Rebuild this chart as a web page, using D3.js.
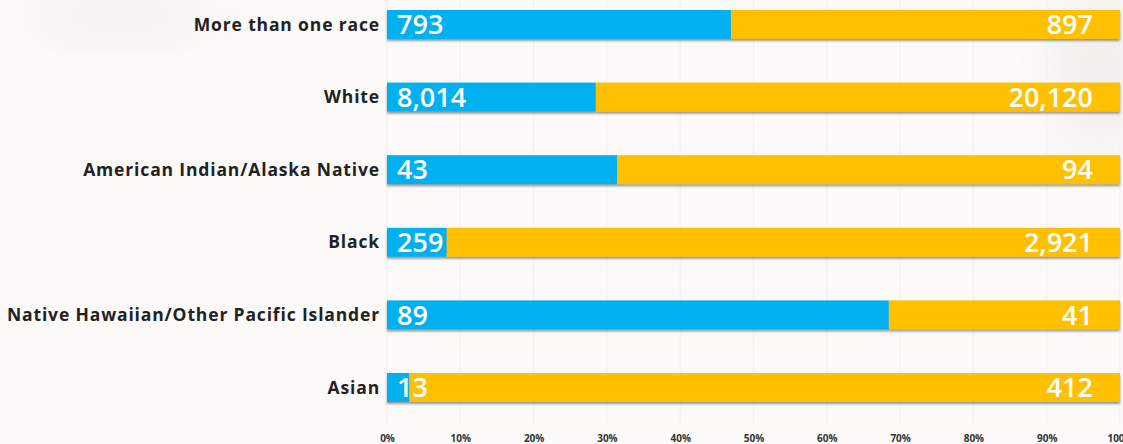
<!DOCTYPE html>
<html>
<head>
<meta charset="utf-8">
<script src="https://cdn.jsdelivr.net/npm/d3@7"></script>
<style>
  html, body { margin: 0; padding: 0; background: #fbfaf8; }
  svg { display: block; }
</style>
</head>
<body>
<div id="graph"></div>
<script>
var categories = ["More than one race", "White", "American Indian/Alaska Native", "Black",
  "Native Hawaiian/Other Pacific Islander", "Asian"];
var blueValues = [793, 8014, 43, 259, 89, 13];
var orangeValues = [897, 20120, 94, 2921, 41, 412];
var tickLabels = ["0%", "10%", "20%", "30%", "40%", "50%", "60%", "70%", "80%", "90%", "100%"];

var width = 1123;
var height = 444;
var barHeight = 29;

var svg = d3.select('#graph')
  .append('svg')
  .attr('width', width)
  .attr('height', height);

var defs = svg.append('defs');
var filt = defs.append('filter').attr('id', 'shadow')
  .attr('x', '-1%').attr('y', '-20%').attr('width', '102%').attr('height', '160%');
filt.append('feDropShadow')
  .attr('dx', 0).attr('dy', 2).attr('stdDeviation', 0.8)
  .attr('flood-color', '#555').attr('flood-opacity', 0.6);

// soft blurred background
var bg = defs.append('filter').attr('id', 'blur')
  .attr('x', '-50%').attr('y', '-50%').attr('width', '200%').attr('height', '200%');
bg.append('feGaussianBlur').attr('stdDeviation', 25);
svg.append('rect').attr('width', width).attr('height', height).attr('fill', '#fbfaf8');
svg.append('ellipse').attr('cx', 120).attr('cy', 15).attr('rx', 90).attr('ry', 20)
  .attr('fill', '#f1eeea').attr('filter', 'url(#blur)');
svg.append('ellipse').attr('cx', 1100).attr('cy', 70).attr('rx', 40).attr('ry', 80)
  .attr('fill', '#f0ede9').attr('filter', 'url(#blur)');

var x = d3.scaleLinear().domain([0, 1]).range([387, 1120]);
var y = d3.scalePoint().domain(categories).range([24.5, 387.5]);

var ticks = d3.range(0, 11).map(function(i) { return i / 10; });

// faint gridlines
svg.append('g').selectAll('line')
  .data(ticks)
  .enter()
  .append('line')
  .attr('x1', function(d) { return x(d); })
  .attr('x2', function(d) { return x(d); })
  .attr('y1', 0).attr('y2', 425)
  .attr('stroke', '#f3f1ee')
  .attr('stroke-width', 1);

// axis
var axis = d3.axisBottom(x)
  .tickValues(ticks)
  .tickSize(0)
  .tickFormat(function(d, i) { return tickLabels[i]; });
var ax = svg.append('g')
  .attr('transform', 'translate(0,432)')
  .call(axis);
ax.select('.domain').remove();
ax.selectAll('text')
  .attr('font-family', '"Open Sans", Lato, sans-serif')
  .attr('font-size', 10)
  .attr('font-weight', 700)
  .attr('fill', '#333');

var data = categories.map(function(c, i) {
  var total = blueValues[i] + orangeValues[i];
  return { cat: c, blue: blueValues[i], orange: orangeValues[i], frac: blueValues[i] / total };
});

var rows = svg.append('g').selectAll('g')
  .data(data)
  .enter()
  .append('g')
  .attr('transform', function(d) { return 'translate(0,' + (y(d.cat) - barHeight / 2) + ')'; });

var barGroup = rows.append('g').attr('filter', 'url(#shadow)');
barGroup.append('rect')
  .attr('x', x(0))
  .attr('width', function(d) { return x(d.frac) - x(0); })
  .attr('height', barHeight)
  .attr('fill', '#00b0f0');
barGroup.append('rect')
  .attr('x', function(d) { return x(d.frac); })
  .attr('width', function(d) { return x(1) - x(d.frac); })
  .attr('height', barHeight)
  .attr('fill', '#ffc000');

rows.append('text')
  .attr('x', 380)
  .attr('y', barHeight / 2)
  .attr('dy', '0.35em')
  .attr('text-anchor', 'end')
  .attr('font-family', '"Open Sans", Lato, sans-serif')
  .attr('font-weight', 700)
  .attr('font-size', 17.5)
  .attr('letter-spacing', 0.85)
  .attr('fill', '#222')
  .text(function(d) { return d.cat; });

rows.append('text')
  .attr('x', 397)
  .attr('y', barHeight / 2)
  .attr('dy', '0.36em')
  .attr('font-family', '"Open Sans", Lato, sans-serif')
  .attr('font-weight', 600)
  .attr('font-size', 27)
  .attr('fill', '#fff')
  .text(function(d) { return d3.format(',')(d.blue); });

rows.append('text')
  .attr('x', 1093)
  .attr('y', barHeight / 2)
  .attr('dy', '0.36em')
  .attr('text-anchor', 'end')
  .attr('font-family', '"Open Sans", Lato, sans-serif')
  .attr('font-weight', 600)
  .attr('font-size', 27)
  .attr('fill', '#fff')
  .text(function(d) { return d3.format(',')(d.orange); });
</script>
</body>
</html>
